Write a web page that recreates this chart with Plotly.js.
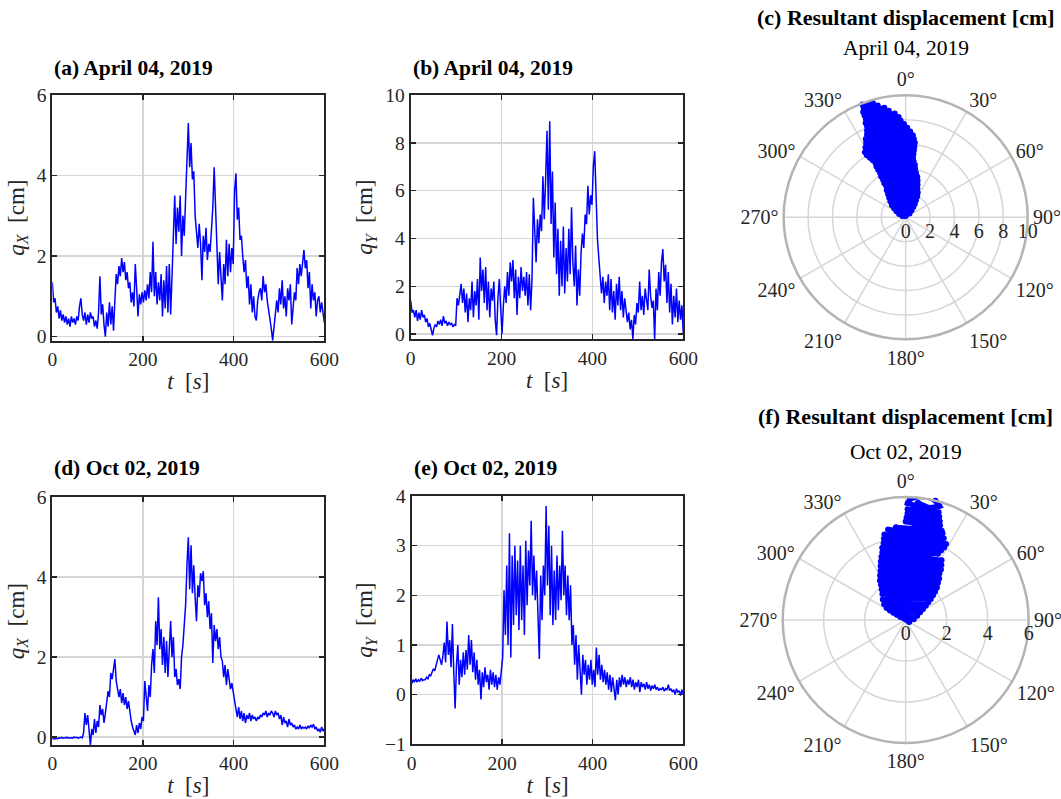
<!DOCTYPE html>
<html>
<head>
<meta charset="utf-8">
<script src="https://cdn.plot.ly/plotly-3.0.1.min.js"></script>
<style>html,body{margin:0;padding:0;background:#fff;}#chart{width:1061px;height:799px;}</style>
</head>
<body>
<div id="chart"></div>
<script>
// ---- time base (3 s sampling, 0..600 s) ----
const dt = 3;
const nSamples = 201;

// ---- (a) April 04, 2019 : q_X [cm] ----
const qX_apr = [
 1.35,0.85,0.95,0.6,0.75,0.45,0.65,0.4,0.55,0.35,
 0.5,0.3,0.45,0.25,0.5,0.35,0.45,0.3,0.5,0.4,
 0.75,0.95,0.55,0.4,0.6,0.3,0.55,0.35,0.6,0.45,
 0.5,0.25,0.4,0.2,0.6,1.5,0.55,0.8,0.3,0.0,
 0.6,0.25,0.85,0.3,0.75,0.15,0.9,1.55,1.3,1.75,
 1.5,1.95,1.6,1.85,1.4,1.6,1.2,1.35,0.85,1.1,
 0.75,1.8,1.2,0.5,1.05,0.8,1.1,0.85,1.15,0.9,
 1.3,0.95,1.6,1.1,2.35,1.0,1.6,0.8,1.35,0.9,
 1.55,0.5,1.4,0.7,1.75,0.6,1.8,0.55,1.5,2.8,
 3.5,2.3,3.2,2.6,3.5,2.0,3.0,2.5,3.6,4.3,
 5.3,4.2,4.8,3.9,4.1,3.0,2.6,2.2,2.8,2.3,
 1.4,2.5,2.1,2.7,1.9,2.3,2.1,2.6,3.2,4.2,
 3.1,2.4,1.3,2.1,1.6,0.9,1.8,1.3,2.4,1.5,
 2.3,1.6,2.2,1.8,3.6,4.05,2.9,3.2,2.4,2.5,
 2.0,1.6,1.9,1.2,1.5,0.8,1.3,0.6,1.0,0.5,
 0.4,0.9,1.1,1.2,0.9,1.5,1.1,1.3,0.9,0.7,
 0.45,0.2,-0.1,0.3,0.5,0.9,0.6,1.2,0.8,1.4,
 0.7,1.0,0.5,1.2,0.9,1.3,0.3,0.8,1.1,0.9,
 1.7,1.3,1.8,1.5,1.9,2.15,1.7,1.9,1.2,1.6,
 0.7,1.3,0.9,1.1,0.5,0.9,1.0,0.6,0.85,0.55,
 0.35
];

// ---- (b) April 04, 2019 : q_Y [cm] ----
const qY_apr = [
 1.4,0.9,1.0,0.7,1.0,0.55,0.9,0.6,1.0,0.7,
 0.8,0.5,0.65,0.3,0.45,0.15,-0.05,0.25,0.4,0.3,
 0.55,0.4,0.6,0.35,0.75,0.45,0.55,0.35,0.5,0.4,
 0.45,0.3,0.4,0.35,1.5,1.2,1.7,2.1,1.3,1.9,
 0.9,1.7,0.5,1.5,1.0,2.2,0.7,1.8,1.2,2.3,
 0.6,3.2,1.8,2.7,1.3,2.8,1.0,2.2,0.7,1.9,
 1.4,2.2,0.6,-0.05,1.5,2.3,1.1,0.0,1.2,2.0,
 1.3,2.6,1.6,3.0,2.2,3.1,1.5,2.7,0.8,2.4,
 1.5,2.8,1.8,2.4,1.6,2.6,1.2,2.5,1.0,2.3,
 5.7,4.2,3.0,4.8,3.8,5.0,4.3,6.6,4.8,6.5,
 8.5,5.2,8.9,4.6,6.8,3.2,5.5,2.5,4.4,1.6,
 3.9,2.0,4.5,1.7,3.6,2.2,4.4,2.5,5.3,3.0,
 2.0,3.7,1.2,2.7,1.6,3.4,4.2,3.6,5.0,4.6,
 6.2,5.0,5.8,5.4,7.0,7.65,5.2,4.0,3.2,2.2,
 1.7,2.4,1.3,2.2,1.6,2.5,1.0,2.3,0.9,1.8,
 0.6,2.1,1.2,2.4,1.0,1.8,0.7,1.5,0.9,0.5,
 0.9,0.2,0.6,-0.2,0.8,0.4,1.3,0.9,2.2,1.0,
 1.6,0.8,1.9,1.3,1.0,2.7,1.6,1.1,1.4,-0.2,
 1.9,1.0,2.6,1.6,3.0,3.55,2.2,2.9,1.3,2.6,
 0.9,2.1,0.4,1.6,0.7,1.9,0.5,1.4,0.6,1.2,
 0.0
];

// ---- (d) Oct 02, 2019 : q_X [cm] ----
const qX_oct = [
 -0.05,-0.04,-0.05,-0.03,-0.04,-0.02,-0.03,-0.01,-0.03,-0.02,
 -0.02,-0.01,-0.03,-0.02,-0.02,-0.03,0.0,-0.02,-0.01,-0.03,
 -0.01,0.0,-0.02,0.1,0.6,0.3,0.55,0.1,-0.2,0.2,
 0.05,0.45,0.1,0.4,0.25,0.8,0.55,0.7,0.35,0.6,
 0.9,1.15,1.0,1.6,1.45,1.65,1.95,1.4,1.15,1.0,
 1.2,0.85,1.1,0.8,1.0,0.7,0.9,0.6,0.4,0.25,
 0.15,0.05,0.3,0.1,0.35,0.2,0.5,0.4,1.4,0.9,
 0.65,1.3,1.0,1.8,2.2,1.6,2.9,2.3,3.5,2.2,
 2.7,1.8,2.5,1.6,2.4,1.5,2.2,2.9,2.0,2.5,
 1.5,1.7,1.3,1.45,1.2,2.0,2.3,2.9,3.3,4.3,
 5.0,3.7,4.8,3.6,4.3,3.5,2.9,3.8,3.5,4.1,
 3.9,4.15,3.3,3.6,3.0,3.4,2.7,3.1,1.85,2.8,
 2.4,2.7,2.2,2.5,2.0,1.9,1.5,1.8,1.3,1.7,
 1.4,1.2,1.35,1.1,0.9,0.7,0.5,0.75,0.45,0.65,
 0.4,0.6,0.35,0.55,0.45,0.6,0.4,0.55,0.45,0.5,
 0.4,0.5,0.45,0.55,0.5,0.6,0.55,0.65,0.5,0.6,
 0.55,0.65,0.6,0.5,0.65,0.55,0.6,0.45,0.55,0.3,
 0.5,0.35,0.4,0.25,0.45,0.3,0.35,0.25,0.3,0.2,
 0.25,0.2,0.3,0.2,0.25,0.22,0.25,0.2,0.28,0.22,
 0.3,0.25,0.32,0.2,0.25,0.15,0.2,0.12,0.25,0.15,
 0.2
];

// ---- (e) Oct 02, 2019 : q_Y [cm] ----
const qY_oct = [
 0.22,0.3,0.25,0.32,0.25,0.3,0.27,0.33,0.28,0.3,
 0.3,0.35,0.32,0.4,0.38,0.45,0.52,0.48,0.62,0.7,
 0.8,0.72,0.6,0.78,1.05,0.65,1.47,0.8,1.1,0.55,
 1.42,0.45,-0.28,0.6,1.0,0.2,0.7,0.35,0.85,0.4,
 0.9,0.5,1.2,0.6,1.1,0.45,0.85,0.3,0.7,0.2,
 0.5,-0.1,0.45,0.15,0.55,0.25,0.4,0.1,0.5,0.2,
 0.45,0.15,0.4,0.1,0.35,0.2,0.5,0.75,2.1,1.2,
 2.6,1.0,3.25,0.75,2.8,1.4,3.0,1.6,2.7,1.3,
 3.0,1.5,2.6,1.2,3.1,1.8,2.9,2.2,3.5,2.0,
 2.8,1.9,2.5,1.6,0.72,2.4,1.5,2.6,2.0,3.8,
 2.2,3.4,1.6,3.0,1.4,2.5,1.5,2.8,1.7,2.6,
 1.9,3.3,2.0,2.6,1.6,2.4,1.5,2.2,1.0,1.4,
 0.6,1.2,0.3,1.0,0.5,0.0,0.8,0.4,0.7,0.2,
 0.6,0.3,0.7,0.2,0.5,0.15,0.95,0.4,0.8,0.3,
 0.6,0.25,0.5,0.2,0.45,0.1,0.4,0.05,0.35,0.15,
 -0.11,0.3,0.0,0.35,0.15,0.4,0.2,0.35,0.15,0.3,
 0.2,0.35,0.15,0.3,0.1,0.25,0.15,0.3,0.05,0.25,
 0.15,0.22,0.1,0.25,0.12,0.2,0.08,0.18,0.12,0.2,
 0.1,0.15,0.08,0.12,0.1,0.15,0.07,0.12,0.1,0.2,
 0.08,0.12,0.05,0.1,0.0,0.12,0.05,0.08,-0.02,0.1,
 0.0
];

// ---- (c) resultant displacement, April 04, 2019 (r [cm], theta [deg]) ----
const r_apr = [0.1,0.3,0.45,0.6,0.75,0.9,1.05,1.2,1.35,1.5,1.65,1.8,1.95,2.1,2.25,2.4,2.55,2.7,2.85,3.0,
 3.15,3.3,3.45,3.6,3.75,3.9,4.05,4.2,4.35,4.5,4.65,4.8,4.95,5.1,5.25,5.4,5.55,5.7,5.85,6.0,
 6.15,6.3,6.45,6.6,6.75,6.9,7.05,7.2,7.35,7.5,7.65,7.8,7.95,8.1,8.25,8.4,8.55,8.7,8.85,9.0,
 9.15,9.3,9.45,9.6,9.75,9.9,10.05,10.1,9.6,9.2,8.6,8.2,7.4];
const th_apr = [0,290,45,296,40,303,37,308,34,311,31,316,29,320,26,323,22,325,20,328,
 18,328,16,329,13,329,11,330,10,330,8,330,7,331,7,330,7,329,7,328,
 7,328,6,330,5,332,3,333,1,335,359,336,357,337,356,337,354,338,351,338,
 349,338,346,339,344,339,341,339,341,343,349,346,352];

// ---- (f) resultant displacement, Oct 02, 2019 ----
const r_oct = [0.2,0.3,0.4,0.5,0.6,0.7,0.8,0.9,1.0,1.1,1.2,1.3,1.4,1.5,1.6,1.7,1.8,1.9,2.0,2.1,
 2.2,2.3,2.4,2.5,2.6,2.7,2.8,2.9,3.0,3.1,3.2,3.3,3.4,3.5,3.6,3.7,3.8,3.9,4.0,4.1,
 4.2,4.3,4.4,4.5,4.6,4.55,4.7,4.8,4.9,5.0,5.1,5.2,5.3,5.4,5.5,5.7,5.9,6.05,6.1,6.0,5.8,5.6,5.75,5.55];
const th_oct = [120,300,85,300,70,300,62,301,58,302,55,306,52,312,50,318,48,322,46,325,
 44,327,41,330,39,333,36,335,35,337,33,339,31,341,26,342,27,344,28,345,
 28,346,25,349,23,354,22,0,20,0.5,19,1,18,1,17,1,2,6,10,14,16.5,12,6,4];

// ---- tick labels ----
const angleTicks = [0,30,60,90,120,150,180,210,240,270,300,330];
const angleLabels = ['0°','30°','60°','90°','120°','150°','180°','210°','240°','270°','300°','330°'];
const radialTicksApr = [0,2,4,6,8,10];
const radialTicksOct = [0,2,4,6];

const t = [];
for (let i = 0; i < nSamples; i++) t.push(i * dt);

const FONT = 'Liberation Serif';
const TXT = '#262626';
const BLUE = '#0000ff';
const SP = '\u00A0';

function lineTrace(y, xa, ya) {
  return {x: t, y: y, xaxis: xa, yaxis: ya, type: 'scatter', mode: 'lines',
          line: {color: BLUE, width: 1.5}, hoverinfo: 'skip'};
}
function polarTrace(r, th, sp) {
  return {r: r, theta: th, subplot: sp, type: 'scatterpolar', mode: 'lines+markers',
          line: {color: BLUE, width: 5}, marker: {color: BLUE, size: 6}, hoverinfo: 'skip'};
}

const data = [
  lineTrace(qX_apr, 'x', 'y'),
  lineTrace(qY_apr, 'x2', 'y2'),
  lineTrace(qX_oct, 'x3', 'y3'),
  lineTrace(qY_oct, 'x4', 'y4'),
  polarTrace(r_apr, th_apr, 'polar'),
  polarTrace(r_oct, th_oct, 'polar2')
];

function xAxis(dom, anchor) {
  return {domain: dom, anchor: anchor, range: [0, 600], tickvals: [0, 200, 400, 600],
    showline: true, mirror: 'ticks', linecolor: TXT, linewidth: 2,
    ticks: 'inside', ticklen: 5, tickwidth: 1.5, tickcolor: TXT,
    showgrid: true, gridcolor: '#d6d6d6', gridwidth: 1.5, zeroline: false,
    tickfont: {family: FONT, size: 19.5, color: TXT},
    title: {text: '<i>t</i>' + SP + SP + '[<i>s</i>]', font: {family: FONT, size: 23, color: TXT}, standoff: 4}};
}
function yAxis(dom, anchor, range, tv, lbl) {
  return {domain: dom, anchor: anchor, range: range, tickvals: tv,
    showline: true, mirror: 'ticks', linecolor: TXT, linewidth: 2,
    ticks: 'inside', ticklen: 5, tickwidth: 1.5, tickcolor: TXT,
    showgrid: true, gridcolor: '#d6d6d6', gridwidth: 1.5, zeroline: false,
    tickfont: {family: FONT, size: 19.5, color: TXT},
    title: {text: lbl, font: {family: FONT, size: 23, color: TXT}, standoff: 6}};
}
const qXlbl = '<i>q</i><sub><i>X</i></sub>' + SP + SP + '[cm]';
const qYlbl = '<i>q</i><sub><i>Y</i></sub>' + SP + SP + '[cm]';

function polarLayout(dx, dy, rmax, rticks) {
  return {domain: {x: dx, y: dy}, bgcolor: 'white',
    angularaxis: {rotation: 90, direction: 'clockwise', tickmode: 'array',
      tickvals: angleTicks, ticktext: angleLabels, ticks: '',
      showline: true, linecolor: '#b4b4b4', linewidth: 2.5,
      showgrid: true, gridcolor: '#d6d6d6', gridwidth: 1.5,
      tickfont: {family: FONT, size: 20, color: TXT}},
    radialaxis: {range: [0, rmax], tickvals: rticks, angle: 0, side: 'clockwise', tickangle: 0,
      showline: false, ticks: '', showgrid: true, gridcolor: '#d6d6d6', gridwidth: 1.5,
      tickfont: {family: FONT, size: 20, color: TXT}}
  };
}

function ann(text, x, y, xanchor, bold, size) {
  return {text: bold ? '<b>' + text + '</b>' : text, x: x, y: y, xref: 'paper', yref: 'paper',
    xanchor: xanchor, yanchor: 'middle', showarrow: false,
    font: {family: FONT, size: size, color: '#000'}};
}

const layout = {
  width: 1061, height: 799,
  margin: {l: 0, r: 0, t: 0, b: 0},
  paper_bgcolor: 'white', plot_bgcolor: 'white',
  showlegend: false,
  xaxis: xAxis([0.0493, 0.3057], 'y'),
  yaxis: yAxis([0.5736, 0.8815], 'x', [-0.1, 6], [0, 2, 4, 6], qXlbl),
  xaxis2: xAxis([0.3871, 0.6440], 'y2'),
  yaxis2: yAxis([0.5753, 0.8811], 'x2', [-0.22, 10], [0, 2, 4, 6, 8, 10], qYlbl),
  xaxis3: xAxis([0.0493, 0.3057], 'y3'),
  yaxis3: yAxis([0.0676, 0.3776], 'x3', [-0.2, 6], [0, 2, 4, 6], qXlbl),
  xaxis4: xAxis([0.3880, 0.6440], 'y4'),
  yaxis4: yAxis([0.0685, 0.3792], 'x4', [-1, 4], [-1, 0, 1, 2, 3, 4], qYlbl),
  polar: polarLayout([0.7386, 0.9686], [0.5753, 0.8807], 10, radialTicksApr),
  polar2: polarLayout([0.7377, 0.9695], [0.0701, 0.3780], 6, radialTicksOct),
  annotations: [
    ann('(a) April 04, 2019', 0.049, 0.9149, 'left', true, 21.5),
    ann('(b) April 04, 2019', 0.3874, 0.9149, 'left', true, 21.5),
    ann('(d) Oct 02, 2019', 0.049, 0.4143, 'left', true, 21.5),
    ann('(e) Oct 02, 2019', 0.388, 0.4143, 'left', true, 21.5),
    ann('(c) Resultant displacement [cm]', 0.8536, 0.9787, 'center', true, 22),
    ann('April 04, 2019', 0.8536, 0.9399, 'center', false, 21.5),
    ann('(f) Resultant displacement [cm]', 0.8536, 0.4781, 'center', true, 22),
    ann('Oct 02, 2019', 0.8536, 0.4347, 'center', false, 21.5)
  ]
};

Plotly.newPlot('chart', data, layout, {displayModeBar: false, staticPlot: true});
</script>
</body>
</html>
